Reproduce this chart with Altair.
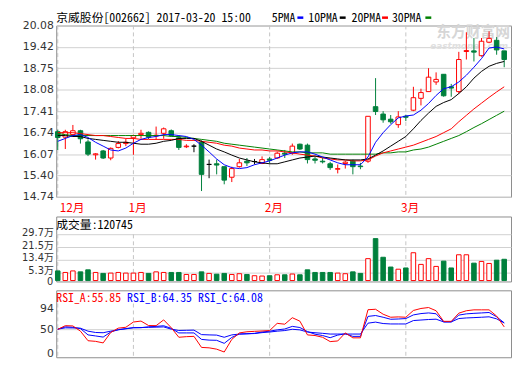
import altair as alt
import pandas as pd

# ---------------- data ----------------
day_index = list(range(60))
opens = [16.77, 16.60, 16.68, 16.80, 16.45, 16.05, 16.17, 15.95, 16.28, 16.40,
         16.58, 16.68, 16.75, 16.64, 16.72, 16.80, 16.58, 16.30, 16.32, 16.44,
         15.75, 15.77, 15.68, 15.35, 15.68, 15.85, 15.84, 15.78, 15.92, 15.95,
         16.10, 16.10, 16.38, 16.35, 15.92, 15.85, 15.77, 15.60, 15.78, 15.85,
         15.70, 15.85, 17.55, 17.32, 17.16, 16.99, 17.25, 17.44, 17.81, 18.02,
         18.32, 18.56, 18.17, 18.02, 19.27, 19.29, 19.14, 19.56, 19.62, 19.29]
highs = [16.83, 16.83, 16.98, 16.83, 16.53, 16.10, 16.20, 16.28, 16.48, 16.55,
         16.68, 16.83, 16.78, 16.93, 16.90, 16.84, 16.65, 16.38, 16.38, 16.50,
         15.90, 15.90, 15.68, 15.68, 15.92, 15.95, 15.92, 16.00, 15.98, 16.15,
         16.20, 16.40, 16.40, 16.40, 15.98, 15.95, 15.83, 15.75, 15.86, 15.90,
         15.80, 17.25, 18.44, 17.41, 17.29, 17.41, 17.30, 18.17, 18.11, 18.75,
         18.62, 18.56, 18.26, 19.26, 19.87, 19.69, 19.69, 19.90, 19.72, 19.29]
lows = [16.20, 16.23, 16.62, 16.40, 16.01, 15.90, 15.92, 15.88, 16.25, 16.32,
        16.05, 16.55, 16.54, 16.52, 16.55, 16.62, 16.20, 16.26, 16.13, 14.92,
        15.32, 15.44, 15.13, 15.20, 15.65, 15.70, 15.75, 15.76, 15.78, 15.92,
        15.95, 16.05, 16.20, 15.78, 15.78, 15.78, 15.58, 15.47, 15.62, 15.44,
        15.60, 15.80, 17.29, 17.05, 17.02, 16.89, 17.10, 17.41, 17.59, 18.02,
        18.23, 17.86, 17.86, 17.96, 19.02, 18.96, 19.11, 19.53, 19.17, 18.78]
closes = [16.59, 16.77, 16.80, 16.55, 16.07, 16.08, 15.95, 16.25, 16.40, 16.44,
          16.65, 16.72, 16.60, 16.66, 16.86, 16.65, 16.28, 16.32, 16.32, 15.44,
          15.75, 15.73, 15.26, 15.62, 15.80, 15.80, 15.84, 15.90, 15.88, 16.10,
          16.07, 16.32, 16.23, 15.90, 15.88, 15.83, 15.65, 15.62, 15.82, 15.68,
          15.68, 17.25, 17.40, 17.14, 17.08, 17.23, 17.22, 17.83, 17.99, 18.47,
          18.40, 17.89, 18.13, 19.02, 19.30, 19.25, 19.59, 19.68, 19.32, 19.02]
volumes_wan = [6.2, 5.2, 6.2, 5.6, 6.9, 5.2, 4.6, 4.8, 5.2, 4.8,
               4.8, 5.2, 4.6, 5.6, 5.2, 5.2, 5.2, 3.9, 3.9, 5.6,
               4.6, 4.1, 4.6, 3.9, 4.4, 3.9, 3.1, 2.9, 3.1, 3.7,
               3.7, 4.2, 3.7, 6.9, 5.2, 5.2, 5.2, 4.8, 4.4, 5.6,
               4.6, 14.1, 27.0, 15.0, 8.7, 7.3, 8.1, 17.9, 10.4, 14.1,
               9.1, 12.5, 8.1, 16.6, 16.6, 11.2, 12.3, 11.0, 13.1, 13.7]
ma5 = [16.47, 16.56, 16.65, 16.68, 16.59, 16.44, 16.32, 16.20, 16.17, 16.26,
       16.41, 16.53, 16.59, 16.62, 16.68, 16.68, 16.65, 16.62, 16.53, 16.35,
       16.14, 15.92, 15.74, 15.65, 15.62, 15.65, 15.74, 15.80, 15.86, 15.95,
       16.04, 16.11, 16.14, 16.14, 16.07, 15.98, 15.89, 15.80, 15.74, 15.74,
       15.74, 15.98, 16.44, 16.74, 16.99, 17.20, 17.26, 17.29, 17.44, 17.65,
       17.90, 18.11, 18.17, 18.32, 18.53, 18.78, 19.05, 19.38, 19.41, 19.35]
ma10 = [16.65, 16.65, 16.62, 16.62, 16.56, 16.53, 16.50, 16.47, 16.44, 16.44,
        16.41, 16.38, 16.38, 16.41, 16.47, 16.50, 16.56, 16.56, 16.56, 16.47,
        16.35, 16.23, 16.14, 16.04, 15.95, 15.89, 15.83, 15.80, 15.77, 15.77,
        15.83, 15.89, 15.95, 15.98, 16.01, 15.98, 15.95, 15.92, 15.89, 15.89,
        15.89, 15.92, 16.04, 16.17, 16.32, 16.47, 16.62, 16.86, 17.12, 17.35,
        17.56, 17.68, 17.77, 17.96, 18.17, 18.44, 18.65, 18.81, 18.90, 18.96]
ma20 = [16.74, 16.74, 16.74, 16.71, 16.68, 16.65, 16.65, 16.62, 16.59, 16.56,
        16.56, 16.53, 16.53, 16.53, 16.53, 16.53, 16.53, 16.50, 16.50, 16.47,
        16.44, 16.41, 16.35, 16.32, 16.26, 16.23, 16.20, 16.20, 16.17, 16.17,
        16.14, 16.11, 16.07, 16.04, 16.01, 15.95, 15.92, 15.89, 15.89, 15.86,
        15.86, 15.89, 16.01, 16.11, 16.17, 16.23, 16.29, 16.35, 16.44, 16.53,
        16.62, 16.74, 16.86, 17.08, 17.28, 17.48, 17.66, 17.84, 18.01, 18.17]
ma30 = [16.71, 16.68, 16.65, 16.65, 16.65, 16.65, 16.65, 16.65, 16.65, 16.65,
        16.65, 16.65, 16.65, 16.65, 16.65, 16.62, 16.62, 16.59, 16.56, 16.53,
        16.50, 16.47, 16.41, 16.38, 16.35, 16.32, 16.29, 16.26, 16.23, 16.20,
        16.17, 16.14, 16.14, 16.11, 16.11, 16.11, 16.07, 16.07, 16.07, 16.07,
        16.07, 16.07, 16.07, 16.11, 16.11, 16.14, 16.14, 16.20, 16.23, 16.29,
        16.38, 16.47, 16.56, 16.65, 16.77, 16.90, 17.02, 17.15, 17.28, 17.41]
rsi_a = [50.5, 58.4, 57.8, 46.8, 26.6, 25.3, 22.0, 44.0, 53.2, 55.0,
         66.1, 68.1, 58.7, 58.4, 70.6, 54.1, 33.9, 35.2, 35.8, 12.5,
         11.6, 8.8, 2.8, 29.4, 43.1, 45.5, 46.4, 47.2, 48.1, 63.3,
         61.5, 75.2, 67.9, 38.9, 37.6, 33.9, 24.8, 26.1, 43.1, 32.7,
         32.7, 92.1, 93.0, 82.6, 76.2, 76.9, 76.2, 90.5, 94.7, 96.7,
         89.9, 67.5, 67.5, 84.8, 89.9, 91.8, 91.8, 91.8, 78.7, 55.85]
rsi_b = [51.0, 56.0, 55.0, 52.3, 38.9, 36.7, 34.3, 45.0, 49.9, 52.3,
         54.1, 54.1, 56.0, 56.9, 58.2, 52.8, 43.1, 43.1, 43.1, 29.4,
         27.9, 27.5, 21.1, 33.6, 40.7, 41.3, 42.2, 45.0, 46.8, 49.5,
         51.4, 56.9, 54.5, 45.9, 40.4, 37.6, 33.0, 38.5, 41.3, 35.8,
         35.8, 78.0, 79.8, 76.2, 71.9, 72.5, 73.4, 81.1, 83.9, 85.3,
         83.5, 66.4, 66.4, 80.7, 83.3, 84.4, 85.3, 86.2, 77.1, 64.35]
rsi_c = [51.0, 53.8, 53.6, 53.0, 46.8, 44.0, 43.5, 46.8, 49.7, 51.7,
         54.1, 54.5, 54.9, 55.2, 55.8, 51.0, 48.3, 48.6, 49.0, 39.5,
         38.9, 38.5, 33.9, 38.9, 40.7, 41.3, 41.8, 43.7, 45.0, 46.8,
         48.1, 50.8, 49.5, 45.0, 43.5, 42.2, 40.7, 40.7, 40.7, 40.7,
         40.7, 63.7, 65.9, 62.9, 62.0, 62.0, 62.0, 69.2, 70.3, 71.4,
         72.1, 66.4, 66.4, 73.4, 74.7, 75.4, 76.2, 77.1, 72.8, 64.08]

month_index = [0, 10, 28, 46]
month_labels = ["12月", "1月", "2月", "3月"]
price_ticks = [14.74, 15.40, 16.07, 16.74, 17.41, 18.08, 18.75, 19.42, 20.08]
volume_ticks = [5.3, 13.4, 21.5, 29.7]
volume_zero_label = "0"
rsi_ticks = [0, 50, 94]
rsi_gridline = [50]

title_text = "京威股份[002662] 2017-03-20 15:00"
volume_title = "成交量:120745"
rsi_titles = ["RSI_A:55.85", "RSI_B:64.35", "RSI_C:64.08"]
ma_names = ["5PMA", "10PMA", "20PMA", "30PMA"]

# ---------------- styling ----------------
W = 462
H_PRICE = 174
H_VOL = 66
H_RSI = 68
RED = "#ff0000"
GREEN = "#00803c"
BLUE = "#0000ff"
BLACK = "#000000"
MA_GREEN = "#008000"
GRID = "#d0d0d0"
DGRID = "#c4c4c4"
HEAD_FONT = "Noto Sans Mono CJK SC, Noto Sans CJK SC, monospace"
CJK_FONT = "Noto Sans CJK SC"
LABEL_FONT = "DejaVu Sans, Noto Sans CJK SC"

xscale = alt.Scale(domain=[-0.2, 59.9], nice=False, zero=False)
price_scale = alt.Scale(domain=[14.74, 20.08], nice=False, zero=False)
vol_scale = alt.Scale(domain=[-0.6, 41.25], nice=False, zero=False)
rsi_scale = alt.Scale(domain=[-8.3, 133], nice=False, zero=False)

price_axis = alt.Axis(values=price_ticks, format=".2f", title=None, grid=True,
                      labelOverlap=False)
vol_axis = alt.Axis(values=volume_ticks, title=None, grid=True, labelOverlap=False,
                    labelFontSize=10, labelOffset=-2,
                    labelExpr="format(datum.value, '.1f') + '万'")
rsi_axis = alt.Axis(values=rsi_ticks, title=None, grid=False, labelOverlap=False)

dir_domain = ["up", "down", "flat"]
fill_scale = alt.Scale(domain=dir_domain, range=["#ffffff", GREEN, BLACK])
stroke_scale = alt.Scale(domain=dir_domain, range=[RED, GREEN, BLACK])

candles = pd.DataFrame({"i": day_index, "open": opens, "high": highs,
                        "low": lows, "close": closes, "vol": volumes_wan})
months = pd.DataFrame({"i": month_index, "m": month_labels})

base = alt.Chart(candles).transform_calculate(
    x0="datum.i - 0.3",
    x1="datum.i + 0.3",
    zero="0",
    dir="datum.close > datum.open ? 'up' : (datum.close < datum.open ? 'down' : 'flat')",
    vdir="datum.close < datum.open ? 'down' : 'up'",
)


def text_at(text, x, y, color=BLACK, size=12, font=HEAD_FONT, align="left", weight="normal",
            style="normal"):
    return alt.Chart(pd.DataFrame({"t": [text]})).mark_text(
        align=align, baseline="middle", font=font, fontSize=size, color=color,
        fontWeight=weight, fontStyle=style
    ).encode(text="t:N", x=alt.value(x), y=alt.value(y))


def dash(x1, x2, y, color):
    return alt.Chart(pd.DataFrame({"d": [0]})).mark_rule(color=color, strokeWidth=2.5).encode(
        x=alt.value(x1), x2=alt.value(x2), y=alt.value(y))


def ma_line(values, color):
    return alt.Chart(pd.DataFrame({"i": day_index, "v": values})).mark_line(
        color=color, strokeWidth=1).encode(
        x=alt.X("i:Q", scale=xscale, axis=None),
        y=alt.Y("v:Q", scale=price_scale, axis=price_axis))


def rsi_line(values, color):
    return alt.Chart(pd.DataFrame({"i": day_index, "v": values})).mark_line(
        color=color, strokeWidth=1).encode(
        x=alt.X("i:Q", scale=xscale, axis=None),
        y=alt.Y("v:Q", scale=rsi_scale, axis=rsi_axis))


# ---------------- price panel ----------------
wm1 = text_at("东方财富网", W - 1, 7, color="#d6d6d6", size=15, font=CJK_FONT, align="right",
              weight="bold")
wm2 = text_at("eastmoney.com", W - 3, 21, color="#e0e0e0", size=9, font="DejaVu Sans",
              align="right", weight="bold", style="italic")

price_vgrid = alt.Chart(months).mark_rule(color=DGRID, strokeDash=[4, 3]).encode(
    x=alt.X("i:Q", scale=xscale, axis=None), y=alt.value(0), y2=alt.value(H_PRICE))

wick = base.mark_rule(strokeWidth=1).encode(
    x=alt.X("i:Q", scale=xscale, axis=None),
    y=alt.Y("low:Q", scale=price_scale, axis=price_axis),
    y2="high:Q",
    color=alt.Color("dir:N", scale=stroke_scale, legend=None))

body = base.mark_rect(strokeWidth=1).encode(
    x=alt.X("x0:Q", scale=xscale, axis=None), x2="x1:Q",
    y=alt.Y("open:Q", scale=price_scale, axis=price_axis), y2="close:Q",
    fill=alt.Fill("dir:N", scale=fill_scale, legend=None),
    stroke=alt.Stroke("dir:N", scale=stroke_scale, legend=None))

month_first = alt.Chart(months).transform_filter("datum.i == 0").mark_text(
    align="left", baseline="middle", dx=2, font=CJK_FONT, fontSize=12, color=RED).encode(
    x=alt.X("i:Q", scale=xscale, axis=None), y=alt.value(H_PRICE + 11), text="m:N")
month_rest = alt.Chart(months).transform_filter("datum.i > 0").mark_text(
    align="left", baseline="middle", dx=-5, font=CJK_FONT, fontSize=12, color=RED).encode(
    x=alt.X("i:Q", scale=xscale, axis=None), y=alt.value(H_PRICE + 11), text="m:N")

hy = -8
header = [
    text_at(title_text, 0, hy),
    text_at(ma_names[0], 219, hy), dash(245, 251, hy, BLUE),
    text_at(ma_names[1], 256, hy), dash(288, 294, hy, BLACK),
    text_at(ma_names[2], 300, hy), dash(331, 337, hy, RED),
    text_at(ma_names[3], 341, hy), dash(375, 381, hy, MA_GREEN),
]

price = alt.layer(
    wm1, wm2, price_vgrid, wick, body,
    ma_line(ma30, MA_GREEN), ma_line(ma20, RED), ma_line(ma10, BLACK), ma_line(ma5, BLUE),
    month_first, month_rest, *header
).properties(width=W, height=H_PRICE)

# ---------------- volume panel ----------------
vol_vgrid = alt.Chart(months).transform_calculate(top="29.7", bottom="0").mark_rule(
    color=DGRID, strokeDash=[4, 3]).encode(
    x=alt.X("i:Q", scale=xscale, axis=None),
    y=alt.Y("top:Q", scale=vol_scale, axis=vol_axis), y2="bottom:Q")

vol_bars = base.mark_rect(strokeWidth=1).encode(
    x=alt.X("x0:Q", scale=xscale, axis=None), x2="x1:Q",
    y=alt.Y("vol:Q", scale=vol_scale, axis=vol_axis), y2="zero:Q",
    fill=alt.Fill("vdir:N", scale=fill_scale, legend=None),
    stroke=alt.Stroke("vdir:N", scale=stroke_scale, legend=None))

vol_zero = text_at(volume_zero_label, -3, H_VOL + 1, color="#333333", size=10,
                   font=LABEL_FONT, align="right")

volume = alt.layer(
    vol_vgrid, vol_bars, text_at(volume_title, 0, 9), vol_zero
).properties(width=W, height=H_VOL)

# ---------------- RSI panel ----------------
rsi_grid = alt.Chart(pd.DataFrame({"g": rsi_gridline})).mark_rule(color=GRID).encode(
    y=alt.Y("g:Q", scale=rsi_scale, axis=rsi_axis))
rsi_vgrid = alt.Chart(months).transform_calculate(top="105").mark_rule(
    color=DGRID, strokeDash=[4, 3]).encode(
    x=alt.X("i:Q", scale=xscale, axis=None),
    y=alt.Y("top:Q", scale=rsi_scale, axis=rsi_axis), y2=alt.value(H_RSI))

rsi = alt.layer(
    rsi_grid, rsi_vgrid,
    rsi_line(rsi_c, BLUE), rsi_line(rsi_b, BLUE), rsi_line(rsi_a, RED),
    text_at(rsi_titles[0], 0, 7.5, color=RED),
    text_at(rsi_titles[1], 72, 7.5, color=BLUE),
    text_at(rsi_titles[2], 144, 7.5, color=BLUE),
).properties(width=W, height=H_RSI)

chart = alt.vconcat(price, volume, rsi, spacing=1).resolve_scale(
    y="independent"
).properties(padding=0, background="#ffffff").configure_view(
    stroke="#8c8c8c", strokeWidth=1
).configure_axis(
    labelFont=LABEL_FONT, labelFontSize=11, labelColor="#333333",
    ticks=False, domain=False, labelPadding=3, minExtent=48, maxExtent=48,
    gridColor=GRID, gridWidth=1, labelBound=False, labelFlush=False, labelOverlap=False
)

chart.save("out.html", embed_options={"renderer": "svg", "actions": False})
